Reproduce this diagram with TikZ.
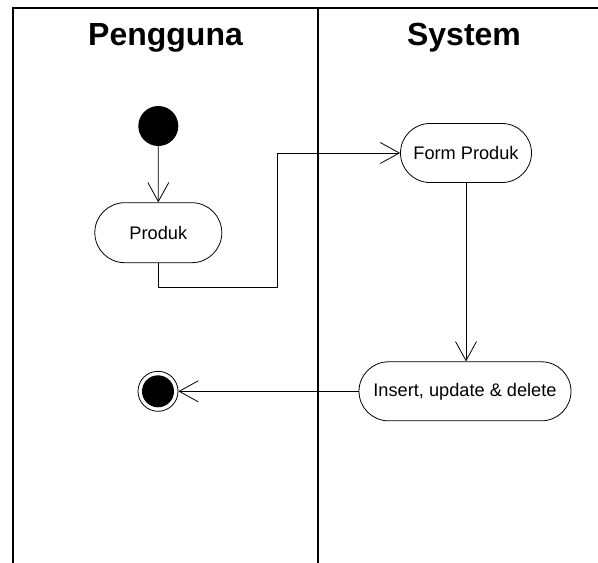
\documentclass[tikz,border=0pt]{standalone}
\usepackage{fontspec}
\setmainfont{Liberation Sans}
\usetikzlibrary{arrows.meta,shapes.misc}

\begin{document}
\begin{tikzpicture}[x=1pt,y=-1pt,
    lane/.style={font=\bfseries\fontsize{32}{38}\selectfont,anchor=base,inner sep=0pt},
    action/.style={rounded rectangle,draw,line width=0.8pt,minimum height=59pt,inner sep=0pt,font=\fontsize{18.2}{22}\selectfont},
    flow/.style={line width=0.8pt,-{Straight Barb[length=19pt,width=21pt,line width=0.8pt]}}]
    \useasboundingbox (0,0) rectangle (598,563);
    % Lanes
    \draw[line width=2pt] (598,7.5) -- (12.5,7.5) -- (12.5,563);
    \draw[line width=2pt] (317.5,7.5) -- (317.5,563);
    \node[lane] (pengguna) at (165.5,45) {Pengguna};
    \node[lane] (system) at (464,45) {System};
    % Activities
    \node[circle,fill,minimum size=40pt,inner sep=0pt] (start) at (158.3,126) {};
    \node[action,minimum width=127pt,minimum height=60pt] (produk) at (158.3,232.7) {Produk};
    \node[action,minimum width=131pt] (form) at (466,153) {Form Produk};
    \node[action,minimum width=212pt] (crud) at (465,391.3) {Insert, update \& delete};
    \node[circle,draw,line width=0.8pt,minimum size=40pt,inner sep=0pt] (end) at (158,391.3) {};
    \node[circle,fill,minimum size=32pt,inner sep=0pt] (endin) at (end) {};
    \coordinate (bend) at (277.7,153);
    % Flows
    \draw[flow] (start) -- (produk);
    \draw[flow] (produk.south) -- ++(0,24.6) -| (bend) -- (form.west);
    \draw[flow] (form.south) -- (form.south |- crud.north);
    \draw[flow] (crud) -- (end);
\end{tikzpicture}
\end{document}
